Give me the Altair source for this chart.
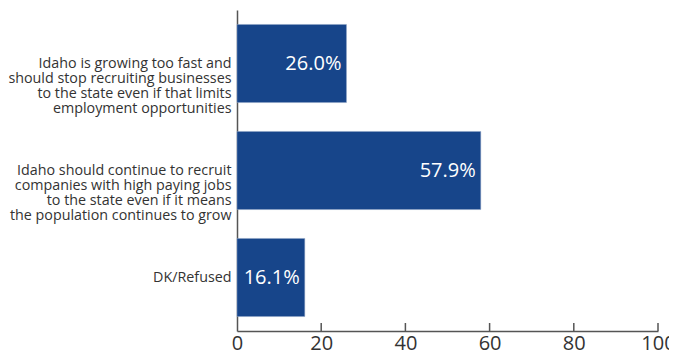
import altair as alt
import pandas as pd

categories = [
    "Idaho is growing too fast and\nshould stop recruiting businesses\nto the state even if that limits\nemployment opportunities",
    "Idaho should continue to recruit\ncompanies with high paying jobs\nto the state even if it means\nthe population continues to grow",
    "DK/Refused",
]
values = [26.0, 57.9, 16.1]
tick_values = [0, 20, 40, 60, 80, 100]

df = pd.DataFrame({"cat": categories, "val": values})
df["lbl"] = df["val"].map(lambda v: f"{v:.1f}%")
ticks_df = pd.DataFrame({"t": tick_values[1:]})

FONT = "Open Sans"
BLUE = "#17458a"
W, H = 421, 321

x_scale = alt.Scale(domain=[0, 100], nice=False)
y_enc = alt.Y(
    "cat:N",
    sort=categories,
    scale=alt.Scale(paddingInner=0.27, paddingOuter=0.135),
    axis=alt.Axis(
        title=None,
        ticks=False,
        labelExpr="split(datum.label, '\\n')",
        labelFont=FONT,
        labelFontSize=14.3,
        labelColor="#333333",
        labelLineHeight=15,
        labelPadding=6,
        labelLimit=260,
        domainColor="#555555",
        domainWidth=1.5,
    ),
)

bars = alt.Chart(df).mark_bar(color=BLUE, stroke="#8ea3c4", strokeWidth=0.5).encode(
    x=alt.X(
        "val:Q",
        scale=x_scale,
        axis=alt.Axis(
            title=None,
            values=tick_values,
            ticks=False,
            grid=False,
            labelFlush=False,
            labelOverlap=False,
            labelFont=FONT,
            labelFontSize=20,
            labelColor="#333333",
            labelPadding=2,
            domainColor="#555555",
            domainWidth=1.5,
        ),
    ),
    y=y_enc,
)

text = alt.Chart(df).mark_text(
    align="right", baseline="middle", dx=-5, color="white", font=FONT, fontSize=20
).encode(x=alt.X("val:Q", scale=x_scale), y=alt.Y("cat:N", sort=categories), text="lbl:N")

tick_rules = alt.Chart(ticks_df).mark_rule(color="#555555", strokeWidth=1.5).encode(
    x=alt.X("t:Q", scale=x_scale),
    y=alt.value(H - 8),
    y2=alt.value(H),
)

chart = (
    alt.layer(bars, text, tick_rules)
    .properties(
        width=W,
        height=H,
        autosize=alt.AutoSizeParams(type="none"),
        padding={"left": 229, "top": 2, "right": 11, "bottom": 20},
    )
    .configure_view(stroke=None)
)

chart.save("out.html", embed_options={"renderer": "svg", "actions": False})
